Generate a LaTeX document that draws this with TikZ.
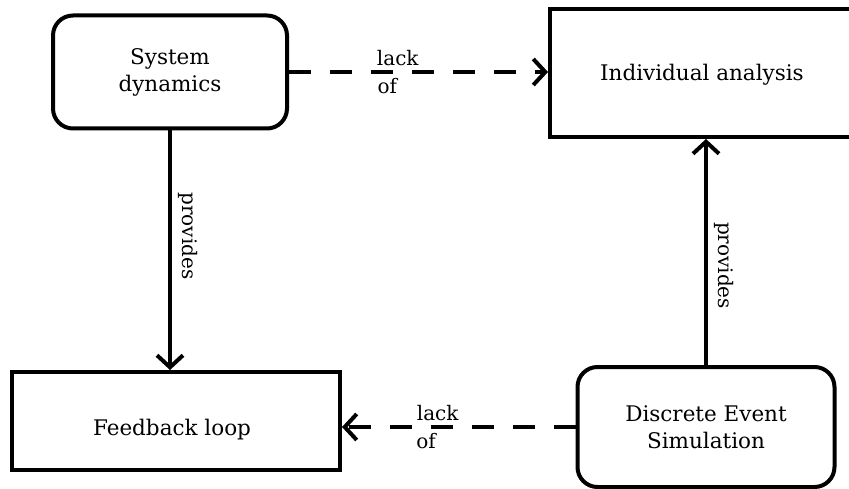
\documentclass[tikz,border=0pt]{standalone}
\usepackage{fontspec}
\setmainfont{DejaVu Serif}
\usetikzlibrary{arrows.meta}
\begin{document}
\begin{tikzpicture}[x=1pt,y=-1pt,
  boxline/.style={draw=black,line width=4pt},
  boxfont/.style={font=\fontsize{21.5}{27}\selectfont},
  roundbox/.style={boxline,boxfont,rounded corners=20pt,align=center},
  sqbox/.style={boxline,align=center},
  conn/.style={line width=4pt,-{Straight Barb[length=12pt,width=26pt,line width=4pt]}},
  dashconn/.style={conn,dash pattern=on 22pt off 19pt},
  lbl/.style={font=\fontsize{20}{23}\selectfont,inner sep=1pt}]
\clip (0,0) rectangle (849,489);
\fill[white] (0,0) rectangle (849,489);
\node[roundbox,minimum width=234pt,minimum height=113pt] (sd) at (170,72) {System\\dynamics};
\node[sqbox,minimum width=320pt,minimum height=128pt] (ia) at (710,73) {};
\node[boxfont] (iat) at (702,75) {Individual analysis};
\node[sqbox,minimum width=328pt,minimum height=98pt] (fl) at (176,421) {};
\node[boxfont] (flt) at (172,430) {Feedback loop};
\node[roundbox,minimum width=257pt,minimum height=120pt] (des) at (706,427) {Discrete Event\\Simulation};
\draw[conn] (sd.south) -- (sd.south |- fl.north)
  node[lbl,pos=0.44,rotate=-90,anchor=south,inner sep=6pt] {provides};
\draw[conn] (des.north) -- (des.north |- ia.south)
  node[lbl,pos=0.44,rotate=-90,anchor=south,inner sep=6pt] {provides};
\draw[dashconn] (sd.east) -- (sd.east -| ia.west)
  node[lbl,pos=0.42,above=3pt] {lack}
  node[lbl,pos=0.38,below=3pt] {of};
\draw[dashconn] (des.west) -- (des.west -| fl.east)
  node[lbl,pos=0.59,above=3pt] {lack}
  node[lbl,pos=0.64,below=3pt] {of};
\end{tikzpicture}
\end{document}
